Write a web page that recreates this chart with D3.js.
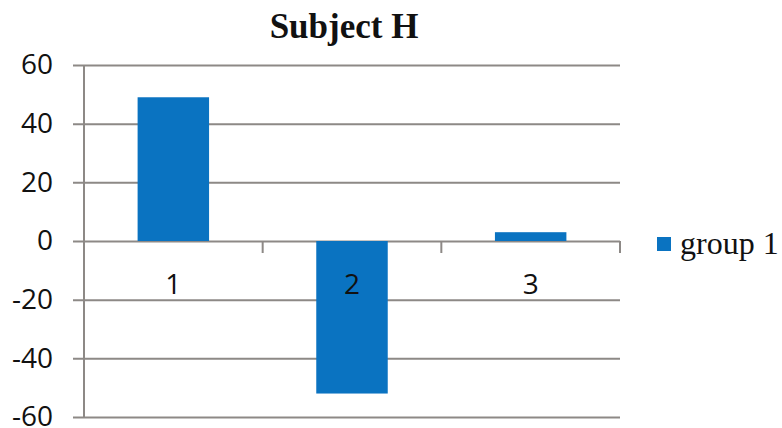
<!DOCTYPE html>
<html>
<head>
<meta charset="utf-8">
<script src="https://cdn.jsdelivr.net/npm/d3@7"></script>
<style>
  html, body { margin: 0; padding: 0; background: #fff; }
  svg { display: block; }
</style>
</head>
<body>
<script>
// Chart data
const categories = ["1", "2", "3"];
const values = [49, -52, 3];
const seriesName = "group 1";
const yTicks = [60, 40, 20, 0, -20, -40, -60];
const title = "Subject H";

const W = 782, H = 428;
const plotLeft = 84, plotRight = 620, plotTop = 65, plotBottom = 417;
const barColor = "#0a73c1";
const gridColor = "#8d8986";
const labelFont = "'Open Sans', sans-serif";
const serifFont = "'Liberation Serif', 'Times New Roman', serif";

const svg = d3.select("body").append("svg").attr("width", W).attr("height", H);

const x = d3.scaleBand().domain(categories).range([plotLeft, plotRight]).paddingInner(0.6).paddingOuter(0.3);
const xEdge = d3.scaleBand().domain(categories).range([plotLeft, plotRight]);
const y = d3.scaleLinear().domain([-60, 60]).range([plotBottom, plotTop]);

// horizontal gridlines with short ticks left of the axis
const yAxis = d3.axisLeft(y)
  .tickValues(yTicks)
  .tickSize(-(plotRight - plotLeft))
  .tickPadding(31)
  .tickFormat(d => String(d));
const gy = svg.append("g").attr("transform", `translate(${plotLeft},0)`).call(yAxis);
gy.select(".domain").remove();
gy.selectAll(".tick line")
  .attr("x1", -11)
  .attr("stroke", gridColor).attr("stroke-width", 2);
gy.selectAll(".tick text")
  .attr("font-family", labelFont).attr("font-size", 28).attr("fill", "#111");

// vertical axis line
svg.append("line")
  .attr("x1", plotLeft).attr("x2", plotLeft).attr("y1", y(60)).attr("y2", y(-60))
  .attr("stroke", gridColor).attr("stroke-width", 2);

// bars
svg.append("g").selectAll("rect").data(values).join("rect")
  .attr("x", (d, i) => x(categories[i]))
  .attr("width", x.bandwidth())
  .attr("y", d => y(Math.max(0, d)))
  .attr("height", d => Math.abs(y(d) - y(0)))
  .attr("fill", barColor);

// category axis on the zero line
const xAxisG = svg.append("g").attr("transform", `translate(0,${y(0)})`);
const edges = categories.map(c => xEdge(c)).concat([plotRight]);
xAxisG.selectAll("line.edge").data(edges.slice(1)).join("line")
  .attr("class", "edge")
  .attr("x1", d => d).attr("x2", d => d).attr("y1", 0).attr("y2", 12)
  .attr("stroke", gridColor).attr("stroke-width", 2);
xAxisG.selectAll("text").data(categories).join("text")
  .attr("x", d => xEdge(d) + xEdge.bandwidth() / 2)
  .attr("y", 53)
  .attr("text-anchor", "middle")
  .attr("font-family", labelFont).attr("font-size", 28).attr("fill", "#111")
  .text(d => d);

// title
svg.append("text")
  .attr("x", 344).attr("y", 38)
  .attr("text-anchor", "middle")
  .attr("font-family", serifFont)
  .attr("font-weight", "bold").attr("font-size", 35).attr("fill", "#111")
  .text(title);

// legend
const lg = svg.append("g").attr("transform", "translate(657,237)");
lg.append("rect").attr("width", 14).attr("height", 14).attr("fill", barColor);
lg.append("text")
  .attr("x", 23).attr("y", 17)
  .attr("font-family", serifFont)
  .attr("font-size", 32).attr("fill", "#111")
  .text(seriesName);
</script>
</body>
</html>
